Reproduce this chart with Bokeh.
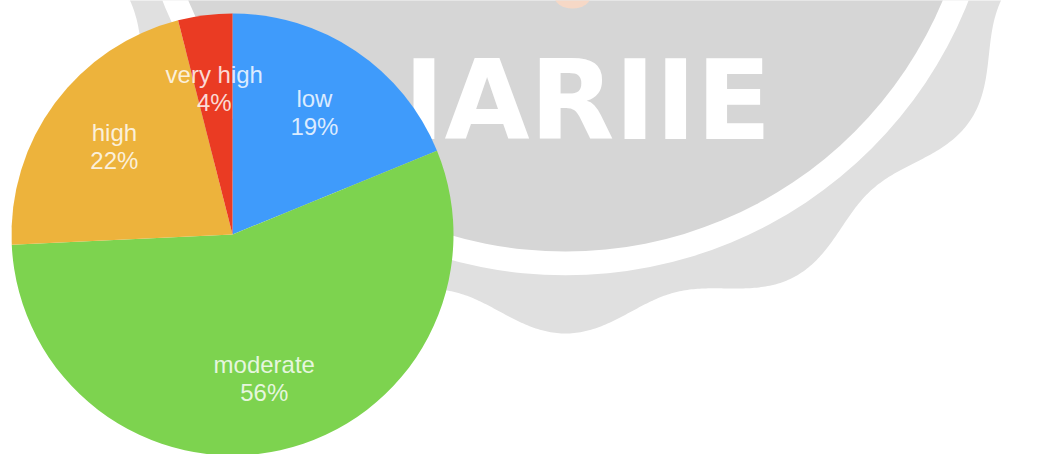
import numpy as np
from bokeh.plotting import figure
from bokeh.models import ColumnDataSource
from bokeh.core.properties import value
from bokeh.embed import file_html
from bokeh.resources import INLINE

categories = ["low", "moderate", "high", "very high"]
shares = [19, 56, 22, 4]
colors = ["#3f9bfb", "#7dd34f", "#edb33c", "#ea3b23"]

WIDTH, HEIGHT = 1039, 454
PIE_X, PIE_Y, PIE_R = 232, HEIGHT - 234, 221
LABEL_R = 147

p = figure(width=WIDTH, height=HEIGHT, x_range=(0, WIDTH), y_range=(0, HEIGHT),
           output_backend="svg", toolbar_location=None, min_border=0)
p.axis.visible = False
p.grid.visible = False
p.outline_line_color = None
p.background_fill_color = "white"
p.border_fill_color = "white"

# Seal behind the chart: scalloped disc, white ring, inner disc, lettering.
seal_x, seal_y = 565, HEIGHT + 158
theta = np.linspace(0, 2 * np.pi, 1441)
edge = 477 + 14 * np.cos(13 * theta)
p.patch(seal_x + edge * np.sin(theta), seal_y - edge * np.cos(theta),
        fill_color="#e0e0e0", line_color=None)
p.circle(seal_x, seal_y, radius=433, fill_color="white", line_color=None)
p.circle(seal_x, seal_y, radius=409, fill_color="#d6d6d6", line_color=None)
p.ellipse(572, HEIGHT + 6, width=38, height=28, fill_color="#f6d8c6", line_color=None)
p.text([587], [HEIGHT - 100], text=["IARIIE"], text_color="white",
       text_font=value("DejaVu Sans"), text_font_style="bold",
       text_font_size="110px", text_align="center", text_baseline="middle")

# Pie slices run clockwise from twelve o'clock.
total = sum(shares)
fractions = np.array(shares) / total
stops = np.concatenate([[0], np.cumsum(fractions)])
start = np.pi / 2 - 2 * np.pi * stops[:-1]
end = np.pi / 2 - 2 * np.pi * stops[1:]
mid = (start + end) / 2

source = ColumnDataSource(dict(
    start=start, end=end, color=colors,
    x=PIE_X + LABEL_R * np.cos(mid), y=PIE_Y + LABEL_R * np.sin(mid),
    name=categories, pct=[f"{s}%" for s in shares],
))
p.wedge(PIE_X, PIE_Y, radius=PIE_R, start_angle="start", end_angle="end",
        direction="clock", fill_color="color", line_color=None, source=source)

label_style = dict(text_color="white", text_alpha=0.82, text_font=value("Liberation Sans"),
                   text_font_size="24px", text_align="center", text_baseline="middle",
                   source=source)
p.text("x", "y", text="name", y_offset=-14, **label_style)
p.text("x", "y", text="pct", y_offset=14, **label_style)

open("out.html", "w").write(file_html(p, INLINE))
